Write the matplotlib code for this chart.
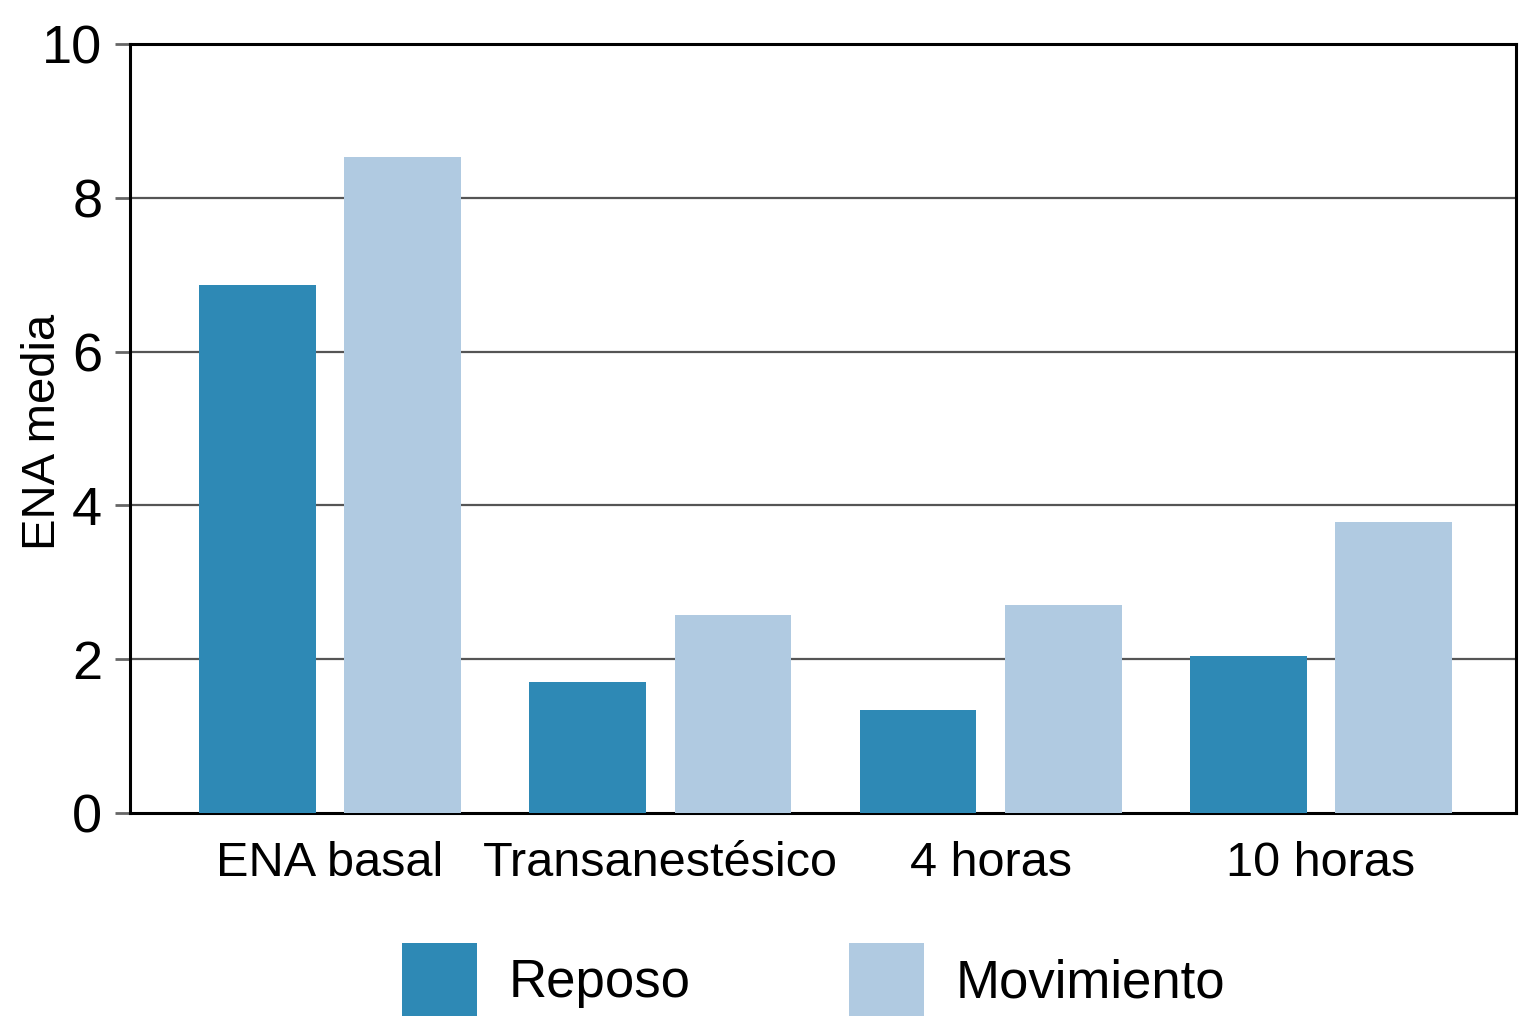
import numpy as np
import matplotlib
matplotlib.use("Agg")
import matplotlib.pyplot as plt

plt.rcParams['font.family'] = ['Liberation Sans', 'DejaVu Sans']

categorias = ["ENA basal", "Transanestésico", "4 horas", "10 horas"]
reposo = [6.87, 1.70, 1.34, 2.04]
movimiento = [8.53, 2.57, 2.70, 3.78]
series = ["Reposo", "Movimiento"]
colores = ["#2E89B5", "#B0CAE1"]

fig = plt.figure(figsize=(15.21, 10.24), dpi=100)
ax = fig.add_axes([0.0855, 0.206, 0.9112, 0.751])

x = np.arange(len(categorias))
w = 0.353
off = 0.22
ax.bar(x - off, reposo, w, color=colores[0], label=series[0], zorder=3)
ax.bar(x + off, movimiento, w, color=colores[1], label=series[1], zorder=3)

ax.set_xlim(-0.605, 3.59)
ax.set_ylim(0, 10)
ax.set_yticks([0, 2, 4, 6, 8, 10])
ax.set_xticks(x)
ax.set_xticklabels(categorias, fontsize=35)
ax.tick_params(axis='x', length=0, pad=20)
ax.tick_params(axis='y', labelsize=39, length=11, width=2, color='#666666', pad=9)

for yv in [2, 4, 6, 8]:
    ax.axhline(yv, color='#555555', lw=1.6, zorder=1)

for s in ax.spines.values():
    s.set_linewidth(2.2)
    s.set_color('black')

ax.set_ylabel("ENA media", fontsize=34)
ax.yaxis.set_label_coords(-0.047, 0.495)

fig.legend(loc='center', bbox_to_anchor=(0.535, 0.043), ncol=2, frameon=False,
           fontsize=38, handlelength=1.42, handleheight=1.75, handletextpad=0.6,
           columnspacing=3.0)

fig.savefig("out.png", dpi=100)
